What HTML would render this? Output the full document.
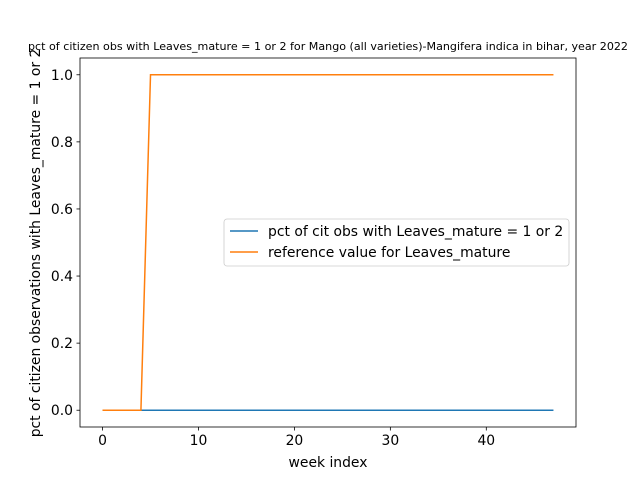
<!DOCTYPE html>
<html><head><meta charset="utf-8"><style>
body{margin:0;background:#fff;}
svg{display:block;font-family:"DejaVu Sans","Liberation Sans",sans-serif;}
</style></head><body>
<svg id="chart" width="640" height="480">
<rect x="0" y="0" width="640" height="480" fill="#fff"/>
<text x="328" y="50" font-size="10.5" text-anchor="middle" textLength="600" lengthAdjust="spacingAndGlyphs">pct of citizen obs with Leaves_mature = 1 or 2 for Mango (all varieties)-Mangifera indica in bihar, year 2022</text>
<g id="plot"></g>
<rect x="80" y="58" width="496" height="369" fill="none" stroke="#000" stroke-width="0.8"/>
<text x="328" y="467" font-size="13.9" text-anchor="middle">week index</text>
<text transform="translate(40,243) rotate(-90)" font-size="13.9" text-anchor="middle">pct of citizen observations with Leaves_mature = 1 or 2</text>
<g>
<rect x="224" y="219" width="345" height="47" rx="3" fill="#fff" fill-opacity="0.8" stroke="#ccc" stroke-width="0.8"/>
<line x1="230" y1="231" x2="258" y2="231" stroke="#1f77b4" stroke-width="1.5"/>
<text x="268" y="236" font-size="13.9">pct of cit obs with Leaves_mature = 1 or 2</text>
<line x1="230" y1="252" x2="258" y2="252" stroke="#ff7f0e" stroke-width="1.5"/>
<text x="268" y="257" font-size="13.9">reference value for Leaves_mature</text>
</g>
</svg>
<script>
const xTicks=[0,10,20,30,40];
const yTicks=[0.0,0.2,0.4,0.6,0.8,1.0];
const yTickLabels=["0.0","0.2","0.4","0.6","0.8","1.0"];
const citizenValues=[0,0,0,0,0,0,0,0,0,0,0,0,0,0,0,0,0,0,0,0,0,0,0,0,0,0,0,0,0,0,0,0,0,0,0,0,0,0,0,0,0,0,0,0,0,0,0,0];
const referenceValues=[0,0,0,0,0,1,1,1,1,1,1,1,1,1,1,1,1,1,1,1,1,1,1,1,1,1,1,1,1,1,1,1,1,1,1,1,1,1,1,1,1,1,1,1,1,1,1,1];
const NS="http://www.w3.org/2000/svg";
const g=document.getElementById('plot');
function sx(v){return 80+(v+2.35)/51.7*496;}
function sy(v){return 427-(v+0.05)/1.1*369;}
function mk(t,a){const e=document.createElementNS(NS,t);for(const k in a)e.setAttribute(k,a[k]);g.appendChild(e);return e;}
xTicks.forEach(t=>{
 const l=mk('line',{x1:sx(t),x2:sx(t),y1:427,y2:430.5,stroke:'#000','stroke-width':0.8});
 
 
 const tx=mk('text',{x:sx(t),y:445,'font-size':13.9,'text-anchor':'middle'});tx.textContent=t;
 
 
});
yTicks.forEach((t,i)=>{
 const l=mk('line',{x1:76.5,x2:80,y1:sy(t),y2:sy(t),stroke:'#000','stroke-width':0.8});
 
 
 const tx=mk('text',{x:73,y:sy(t)+5,'font-size':13.9,'text-anchor':'end'});tx.textContent=yTickLabels[i];
 
 
});
function line(vals,color,name){
 const p=mk('polyline',{points:vals.map((v,i)=>sx(i)+','+sy(v)).join(' '),fill:'none',stroke:color,'stroke-width':1.5});
 
 
}
line(citizenValues,'#1f77b4','citizen-line');
line(referenceValues,'#ff7f0e','reference-line');
</script>
</body></html>
